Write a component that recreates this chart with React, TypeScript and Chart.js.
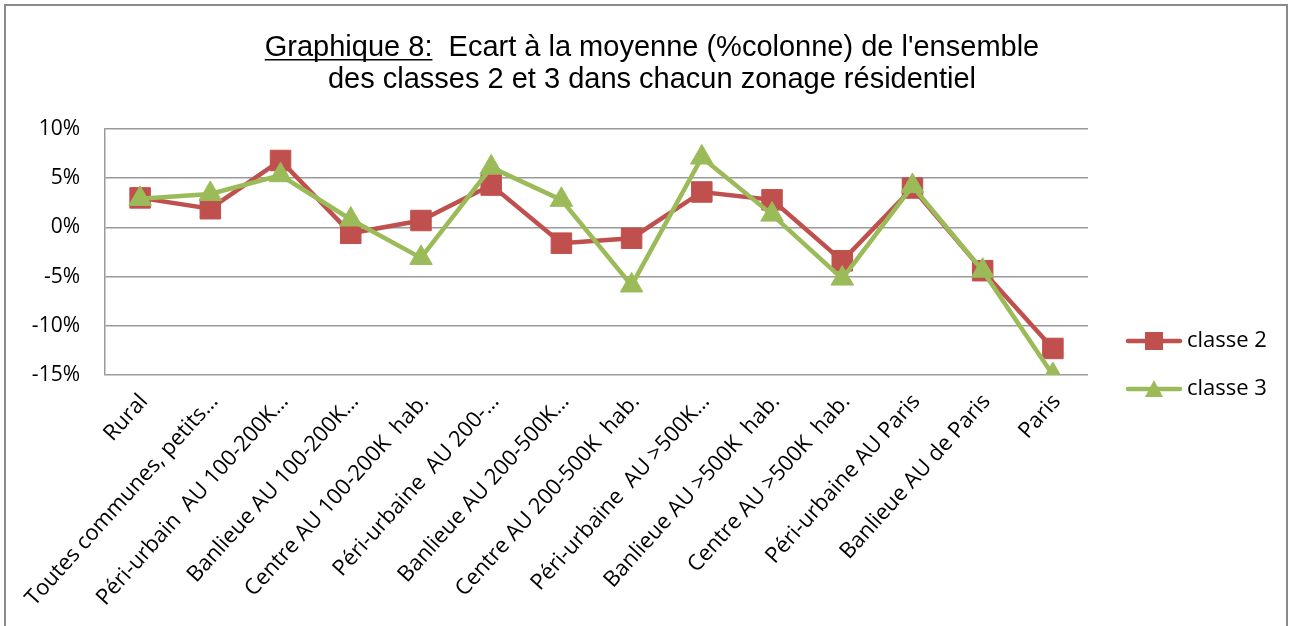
import React, { useEffect, useRef } from "react";
import { Chart, registerables } from "chart.js";

Chart.register(...registerables);

const categories = [
  "Rural",
  "Toutes communes, petits…",
  "Péri-urbain  AU 100-200K…",
  "Banlieue AU 100-200K…",
  "Centre AU 100-200K  hab.",
  "Péri-urbaine  AU 200-…",
  "Banlieue AU 200-500K…",
  "Centre AU 200-500K  hab.",
  "Péri-urbaine  AU >500K…",
  "Banlieue AU >500K  hab.",
  "Centre AU >500K  hab.",
  "Péri-urbaine AU Paris",
  "Banlieue AU de Paris",
  "Paris",
];

const classe2 = [3.0, 1.9, 6.8, -0.6, 0.7, 4.3, -1.6, -1.1, 3.6, 2.8, -3.4, 4.0, -4.4, -12.3];
const classe3 = [2.9, 3.4, 5.3, 0.8, -3.1, 6.1, 2.8, -5.9, 7.1, 1.3, -5.2, 4.2, -4.4, -15.0];

const yTicks = [-15, -10, -5, 0, 5, 10];

const seriesNames = ["classe 2", "classe 3"];
const titleUnderlined = "Graphique 8:";
const titleRest = "  Ecart à la moyenne (%colonne) de l'ensemble";
const titleLine2 = "des classes 2 et 3 dans chacun zonage résidentiel";

const RED = "#C0504D";
const GREEN = "#9BBB59";
const GRID = "#9a9a9a";
const TICK_FONT = { family: '"Open Sans", sans-serif', size: 22 };

const titlePlugin = {
  id: "excelTitle",
  afterDraw(chart: any) {
    const ctx = chart.ctx;
    ctx.save();
    ctx.font = '29px "Liberation Sans", Arial, sans-serif';
    ctx.fillStyle = "#000";
    ctx.textBaseline = "alphabetic";
    ctx.textAlign = "left";
    const w1 = ctx.measureText(titleUnderlined).width;
    const w2 = ctx.measureText(titleRest).width;
    const cx = 652;
    const x0 = cx - (w1 + w2) / 2;
    ctx.fillText(titleUnderlined, x0, 56);
    ctx.fillRect(x0, 59, w1, 1.5);
    ctx.fillText(titleRest, x0 + w1, 56);
    ctx.textAlign = "center";
    ctx.fillText(titleLine2, cx, 88);
    ctx.restore();
  },
};

const legendPlugin = {
  id: "excelLegend",
  afterDraw(chart: any) {
    const ctx = chart.ctx;
    ctx.save();
    const ys = [341, 389];
    chart.data.datasets.forEach((ds: any, i: number) => {
      const y = ys[i];
      ctx.strokeStyle = ds.borderColor;
      ctx.lineWidth = 4.5;
      ctx.lineCap = "round";
      ctx.beginPath();
      ctx.moveTo(1128, y);
      ctx.lineTo(1180, y);
      ctx.stroke();
      ctx.fillStyle = ds.borderColor;
      if (ds.pointStyle === "rect") {
        ctx.fillRect(1154 - 9, y - 9, 18, 18);
      } else {
        ctx.beginPath();
        ctx.moveTo(1154, y - 9);
        ctx.lineTo(1163, y + 8);
        ctx.lineTo(1145, y + 8);
        ctx.closePath();
        ctx.fill();
      }
      ctx.fillStyle = "#000";
      ctx.font = '22px "Open Sans", sans-serif';
      ctx.textAlign = "left";
      ctx.textBaseline = "middle";
      ctx.fillText(ds.label, 1187, y);
    });
    ctx.restore();
  },
};

export default function App() {
  const canvasRef = useRef<HTMLCanvasElement | null>(null);

  useEffect(() => {
    if (!canvasRef.current) return;
    const chart = new Chart(canvasRef.current, {
      type: "line",
      data: {
        labels: categories,
        datasets: [
          {
            label: seriesNames[0],
            data: classe2,
            borderColor: RED,
            backgroundColor: RED,
            borderWidth: 4.5,
            pointStyle: "rect",
            pointRadius: 14.5,
            pointBackgroundColor: RED,
            pointBorderColor: RED,
            pointBorderWidth: 1,
            tension: 0,
            order: 1,
          },
          {
            label: seriesNames[1],
            data: classe3,
            borderColor: GREEN,
            backgroundColor: GREEN,
            borderWidth: 4.5,
            pointStyle: "triangle",
            pointRadius: 13,
            pointBackgroundColor: GREEN,
            pointBorderColor: GREEN,
            pointBorderWidth: 1,
            tension: 0,
            order: 0,
          },
        ],
      },
      options: {
        animation: false,
        responsive: false,
        devicePixelRatio: 1,
        layout: { padding: { top: 129, right: 208, bottom: 0, left: 0 } },
        plugins: {
          legend: { display: false },
          title: { display: false },
          tooltip: { enabled: false },
        },
        scales: {
          x: {
            type: "category",
            offset: true,
            grid: { display: false, drawTicks: false },
            border: { display: false },
            ticks: {
              autoSkip: false,
              maxRotation: 48,
              minRotation: 48,
              padding: 14,
              labelOffset: 4,
              color: "#000",
              font: TICK_FONT,
            },
            afterFit: (s: any) => {
              s.height = 251;
            },
          },
          y: {
            min: yTicks[0],
            max: yTicks[yTicks.length - 1],
            afterBuildTicks: (s: any) => {
              s.ticks = yTicks.map((v) => ({ value: v }));
            },
            grid: { color: GRID, lineWidth: 1.5, drawTicks: false },
            border: { display: true, color: GRID, width: 1.5 },
            ticks: {
              padding: 25,
              color: "#000",
              font: { family: '"Open Sans", sans-serif', size: 21 },
              callback: (v: any) => v + "%",
            },
            afterFit: (s: any) => {
              s.width = 105;
            },
          },
        },
      },
      plugins: [titlePlugin, legendPlugin],
    });
    return () => chart.destroy();
  }, []);

  return (
    <div
      style={{
        position: "fixed",
        inset: 0,
        overflow: "hidden",
        background: "#fff",
      }}
    >
      <canvas
        ref={canvasRef}
        width={1296}
        height={626}
        style={{ position: "absolute", left: 0, top: 0, width: 1296, height: 626 }}
      />
      <div
        style={{
          position: "absolute",
          left: 4,
          top: 4,
          width: 1280,
          height: 700,
          border: "2px solid #8a8a8a",
          pointerEvents: "none",
        }}
      />
    </div>
  );
}
